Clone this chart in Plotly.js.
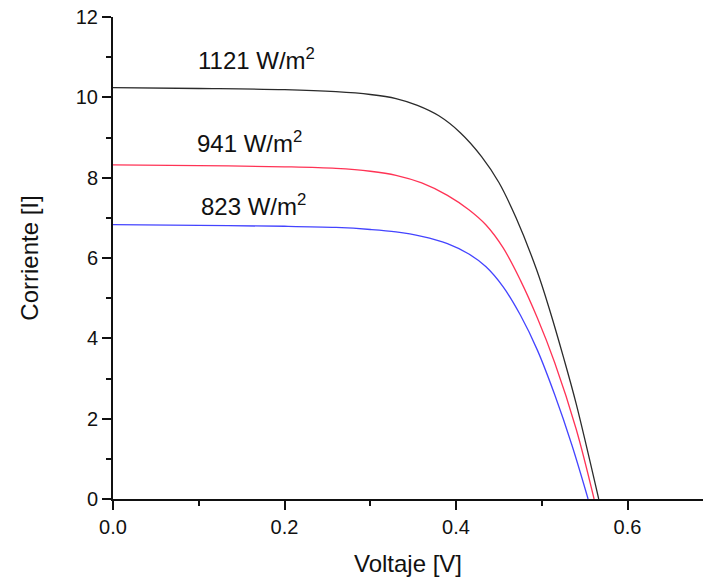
<!DOCTYPE html>
<html>
<head>
<meta charset="utf-8">
<script src="https://cdn.plot.ly/plotly-3.0.1.min.js"></script>
<style>html,body{margin:0;padding:0;background:#fff;}#chart{width:703px;height:579px;}</style>
</head>
<body>
<div id="chart"></div>
<script>
// Irradiance labels
var seriesNames = ["1121 W/m<sup>2</sup>", "941 W/m<sup>2</sup>", "823 W/m<sup>2</sup>"];

// 1121 W/m2 (black)
var vBlack = [0, 0.1, 0.2, 0.26, 0.3, 0.33, 0.355, 0.38, 0.405, 0.43, 0.45, 0.47, 0.4941, 0.51, 0.525, 0.54, 0.5664];
var iBlack = [10.24, 10.22, 10.19, 10.14, 10.07, 9.97, 9.80, 9.54, 9.12, 8.52, 7.88, 7.00, 5.70, 4.65, 3.55, 2.38, 0];

// 941 W/m2 (red)
var vRed = [0, 0.1, 0.2, 0.26, 0.3, 0.33, 0.36, 0.39, 0.415, 0.435, 0.455, 0.475, 0.495, 0.515, 0.54, 0.561];
var iRed = [8.32, 8.30, 8.27, 8.23, 8.16, 8.06, 7.87, 7.56, 7.20, 6.82, 6.25, 5.45, 4.50, 3.40, 1.75, 0];

// 823 W/m2 (blue)
var vBlue = [0, 0.1, 0.2, 0.26, 0.3, 0.33, 0.36, 0.39, 0.415, 0.435, 0.455, 0.475, 0.495, 0.515, 0.535, 0.554];
var iBlue = [6.83, 6.81, 6.79, 6.76, 6.71, 6.65, 6.54, 6.36, 6.10, 5.78, 5.28, 4.58, 3.70, 2.60, 1.35, 0];

// label anchor positions (data coordinates)
var labelX = [0.167, 0.159, 0.164];
var labelY = [10.96, 8.88, 7.33];

var colors = ['#2b2b2b', '#ff3355', '#4444ff'];
var xs = [vBlack, vRed, vBlue];
var ys = [iBlack, iRed, iBlue];

var traces = xs.map(function (x, k) {
  return {
    x: x, y: ys[k], type: 'scatter', mode: 'lines', name: seriesNames[k],
    line: {color: colors[k], width: 1.3, shape: 'spline', smoothing: 1},
    hoverinfo: 'skip'
  };
});

var annotations = seriesNames.map(function (t, k) {
  return {x: labelX[k], y: labelY[k], xref: 'x', yref: 'y', text: t, showarrow: false,
    font: {family: 'Liberation Sans, Arial, sans-serif', size: 24, color: '#111'}};
});

var layout = {
  width: 703, height: 579,
  margin: {l: 113, r: 0, t: 17, b: 80},
  paper_bgcolor: '#fff', plot_bgcolor: '#fff',
  showlegend: false,
  font: {family: 'Liberation Sans, Arial, sans-serif', color: '#111'},
  xaxis: {
    range: [0, 0.688], dtick: 0.2, tick0: 0, tickformat: '.1f',
    showgrid: false, zeroline: false, showline: true, linecolor: '#111', linewidth: 2,
    ticks: 'outside', ticklen: 9, tickwidth: 2, tickcolor: '#111',
    tickfont: {size: 20, color: '#111'},
    minor: {dtick: 0.1, tick0: 0, ticks: 'outside', ticklen: 5, tickwidth: 2, tickcolor: '#111', showgrid: false},
    title: {text: 'Voltaje [V]', font: {size: 24, color: '#111'}, standoff: 18}
  },
  yaxis: {
    range: [0, 12], dtick: 2, tick0: 0,
    showgrid: false, zeroline: false, showline: true, linecolor: '#111', linewidth: 2,
    ticks: 'outside', ticklen: 9, tickwidth: 2, tickcolor: '#111',
    tickfont: {size: 20, color: '#111'},
    minor: {dtick: 1, tick0: 0, ticks: 'outside', ticklen: 5, tickwidth: 2, tickcolor: '#111', showgrid: false},
    title: {text: 'Corriente [I]', font: {size: 24, color: '#111'}, standoff: 30}
  },
  annotations: annotations
};

Plotly.newPlot('chart', traces, layout, {displayModeBar: false, staticPlot: true});
</script>
</body>
</html>
